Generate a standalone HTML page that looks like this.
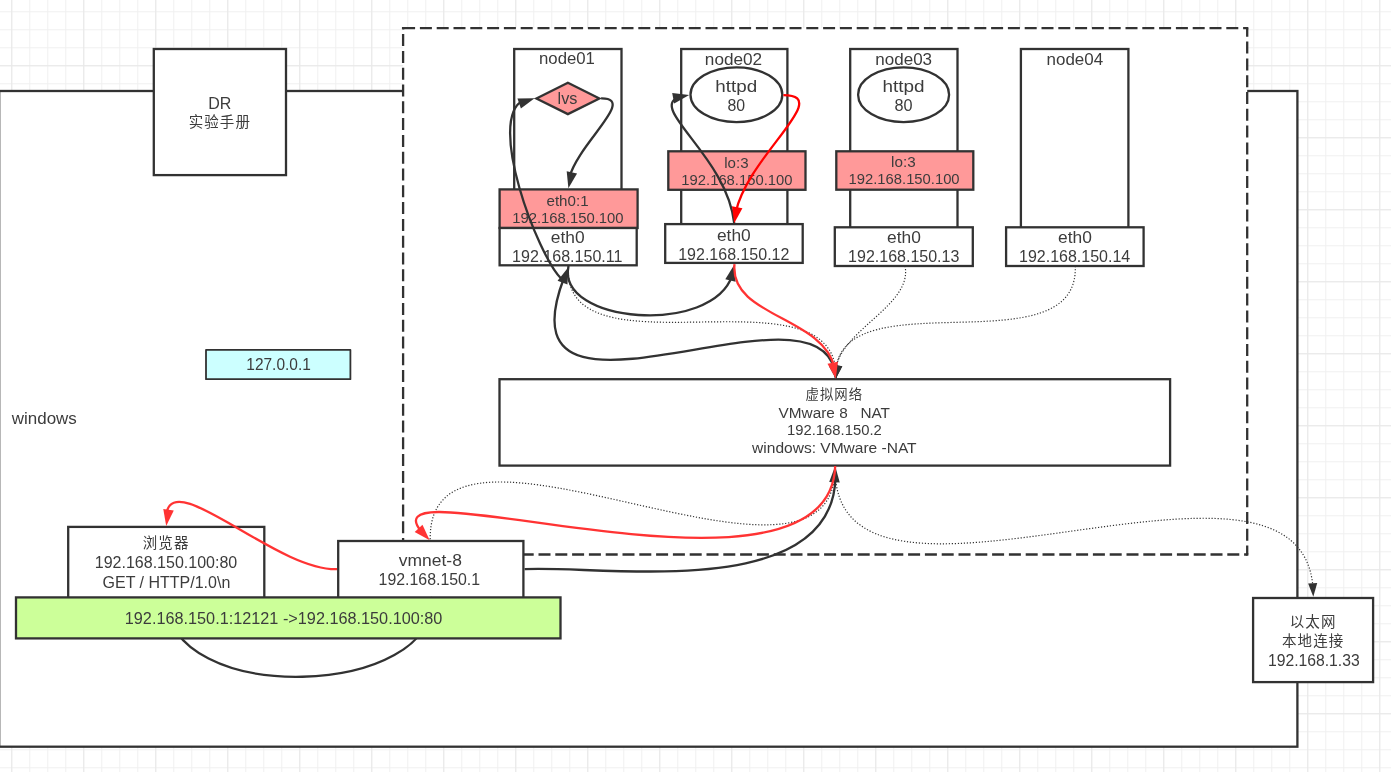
<!DOCTYPE html>
<html lang="zh-CN">
<head>
<meta charset="utf-8">
<title>DR 实验手册</title>
<style>
html,body{margin:0;padding:0;background:#fff;}
body{width:1391px;height:772px;overflow:hidden;position:relative;}
svg{position:absolute;left:0;top:0;display:block;will-change:transform;}
text{font-family:"Liberation Sans","Noto Sans CJK SC",sans-serif;font-size:16px;fill:#3c3c3c;text-anchor:middle;}
.s{fill:#fff;stroke:#323232;stroke-width:2.3;}
.pk{fill:#ff9999;stroke:#323232;stroke-width:2.3;}
.l{fill:none;stroke:#323232;stroke-width:2.3;}
.r{fill:none;stroke:#ff3333;stroke-width:2.3;}
.d{fill:none;stroke:#323232;stroke-width:1.2;stroke-dasharray:1.2 1.8;}
.da{fill:none;stroke:#323232;stroke-width:2.3;stroke-dasharray:12 4.8;}
</style>
</head>
<body>
<svg width="1391" height="772" viewBox="0 0 1391 772">
<defs>
<pattern id="g1" x="11.25" y="11.25" width="18" height="18" patternUnits="userSpaceOnUse">
<path d="M0.5 0V18M0 0.5H18" fill="none" stroke="#f0f0f0" stroke-width="1"/>
</pattern>
<pattern id="g4" x="11.25" y="-6.75" width="72" height="72" patternUnits="userSpaceOnUse">
<path d="M0.5 0V72M0 0.5H72" fill="none" stroke="#e8e8e8" stroke-width="1"/>
</pattern>
</defs>
<rect width="1391" height="772" fill="#fff"/>
<rect width="1391" height="772" fill="url(#g1)"/>
<rect width="1391" height="772" fill="url(#g4)"/>

<!-- windows host -->
<rect class="s" x="-0.8" y="91" width="1298.2" height="655.7"/>

<!-- DR box -->
<rect class="s" x="153.8" y="49" width="132.2" height="126.1"/>

<!-- dashed VM area -->
<rect x="403.1" y="28.2" width="844.1" height="526.3" fill="#fff"/>
<path class="da" d="M403.1 28.2H1247.2"/>
<path class="da" d="M1247.2 28.2V554.5" stroke-dashoffset="3.4"/>
<path class="da" d="M1247.2 554.5H403.1" stroke-dashoffset="8.9"/>
<path class="da" d="M403.1 554.5V28.2" stroke-dashoffset="12.4"/>
<path d="M401.95 27.05h2.3v2.3h-2.3zM1246.05 27.05h2.3v2.3h-2.3zM1246.05 553.35h2.3v2.3h-2.3z" fill="#323232"/>

<!-- node boxes -->
<rect class="s" x="514.2" y="49" width="107.3" height="190"/>
<rect class="s" x="681.2" y="49" width="106.2" height="190"/>
<rect class="s" x="850.2" y="49" width="107.3" height="190"/>
<rect class="s" x="1020.9" y="49" width="107.5" height="190"/>

<!-- lvs diamond -->
<polygon class="pk" points="536.4,98.45 567.9,82.75 599.4,98.45 567.9,114.15"/>

<!-- httpd ellipses -->
<ellipse class="s" cx="736.4" cy="94.7" rx="45.9" ry="27.4"/>
<ellipse class="s" cx="903.6" cy="94.7" rx="45.5" ry="27.4"/>

<!-- pink boxes -->
<rect class="pk" x="499.6" y="189.4" width="138" height="38.6"/>
<rect class="pk" x="668.3" y="151.3" width="137.2" height="38.5"/>
<rect class="pk" x="836.3" y="151.3" width="137" height="38.4"/>

<!-- eth0 boxes -->
<rect class="s" x="499.6" y="228" width="137.1" height="37.3"/>
<rect class="s" x="665.2" y="224.1" width="137.5" height="38.8"/>
<rect class="s" x="834.8" y="227.3" width="138" height="38.7"/>
<rect class="s" x="1006.1" y="227.3" width="137.5" height="38.7"/>

<!-- NAT box -->
<rect class="s" x="499.5" y="379.2" width="670.6" height="86.4"/>

<!-- 127.0.0.1 -->
<rect x="206" y="349.9" width="144.4" height="29.3" fill="#ccffff" stroke="#323232" stroke-width="1.8" stroke-linejoin="round"/>

<!-- browser / vmnet -->
<rect class="s" x="68.2" y="526.9" width="196.1" height="75"/>
<rect class="s" x="338.2" y="541" width="185.2" height="60"/>

<!-- ethernet -->
<rect class="s" x="1253.1" y="598" width="120" height="84.1"/>

<path class="l" d="M166.5 597C164.2 709.36 443.31 697.29 430.5 597"/>

<!-- green box -->
<rect x="16" y="597.4" width="544.5" height="41" fill="#ccff99" stroke="#323232" stroke-width="2.3"/>

<text x="219.81" y="108.8">DR</text>
<text x="219.85" y="126.8" style="font-size:14.51px;letter-spacing:1.09px">实验手册</text>
<text x="566.95" y="64" textLength="55.88" lengthAdjust="spacingAndGlyphs">node01</text>
<text x="733.49" y="65" textLength="57.31" lengthAdjust="spacingAndGlyphs">node02</text>
<text x="903.7" y="65" textLength="56.72" lengthAdjust="spacingAndGlyphs">node03</text>
<text x="1074.88" y="65" textLength="56.56" lengthAdjust="spacingAndGlyphs">node04</text>
<text x="567.47" y="104" textLength="19.86" lengthAdjust="spacingAndGlyphs">lvs</text>
<text x="736.2" y="92" textLength="41.83" lengthAdjust="spacingAndGlyphs">httpd</text>
<text x="736.28" y="111" textLength="17.63" lengthAdjust="spacingAndGlyphs">80</text>
<text x="903.55" y="92" textLength="42.04" lengthAdjust="spacingAndGlyphs">httpd</text>
<text x="903.53" y="111" textLength="18.06" lengthAdjust="spacingAndGlyphs">80</text>
<text x="567.54" y="206.4" style="font-size:14.4px" textLength="42.09" lengthAdjust="spacingAndGlyphs">eth0:1</text>
<text x="567.92" y="223.3" style="font-size:14.4px" textLength="111.47" lengthAdjust="spacingAndGlyphs">192.168.150.100</text>
<text x="736.43" y="167.8" style="font-size:14.4px" textLength="24.32" lengthAdjust="spacingAndGlyphs">lo:3</text>
<text x="736.92" y="185.3" style="font-size:14.4px" textLength="111.17" lengthAdjust="spacingAndGlyphs">192.168.150.100</text>
<text x="903.38" y="166.8" style="font-size:14.4px" textLength="24.53" lengthAdjust="spacingAndGlyphs">lo:3</text>
<text x="904.08" y="184.3" style="font-size:14.4px" textLength="111.06" lengthAdjust="spacingAndGlyphs">192.168.150.100</text>
<text x="567.77" y="242.7" textLength="33.83" lengthAdjust="spacingAndGlyphs">eth0</text>
<text x="567.28" y="262" textLength="110.36" lengthAdjust="spacingAndGlyphs">192.168.150.11</text>
<text x="733.83" y="241" textLength="33.83" lengthAdjust="spacingAndGlyphs">eth0</text>
<text x="733.81" y="260">192.168.150.12</text>
<text x="903.97" y="243" textLength="33.83" lengthAdjust="spacingAndGlyphs">eth0</text>
<text x="903.73" y="262">192.168.150.13</text>
<text x="1074.97" y="243" textLength="33.83" lengthAdjust="spacingAndGlyphs">eth0</text>
<text x="1074.61" y="262">192.168.150.14</text>
<text x="834.3" y="399" style="font-size:13.39px;letter-spacing:1.01px">虚拟网络</text>
<text x="834.32" y="418" style="font-size:14.7px" textLength="111.4" lengthAdjust="spacingAndGlyphs" xml:space="preserve">VMware 8   NAT</text>
<text x="834.42" y="435" style="font-size:14.7px" textLength="94.75" lengthAdjust="spacingAndGlyphs">192.168.150.2</text>
<text x="834.36" y="453" style="font-size:14.7px" textLength="164.51" lengthAdjust="spacingAndGlyphs">windows: VMware -NAT</text>
<text x="278.57" y="370" textLength="64.46" lengthAdjust="spacingAndGlyphs">127.0.0.1</text>
<text x="44.3" y="424" textLength="64.99" lengthAdjust="spacingAndGlyphs">windows</text>
<text x="166.15" y="547.6" style="font-size:14.51px;letter-spacing:1.09px">浏览器</text>
<text x="166" y="568">192.168.150.100:80</text>
<text x="166.41" y="588">GET / HTTP/1.0\n</text>
<text x="430.33" y="566" textLength="63.03" lengthAdjust="spacingAndGlyphs">vmnet-8</text>
<text x="429.36" y="585" textLength="101.51" lengthAdjust="spacingAndGlyphs">192.168.150.1</text>
<text x="283.59" y="624" textLength="317.57" lengthAdjust="spacingAndGlyphs">192.168.150.1:12121 -&gt;192.168.150.100:80</text>
<text x="1313.15" y="626.5" style="font-size:14.51px;letter-spacing:1.09px">以太网</text>
<text x="1313.15" y="645.5" style="font-size:14.51px;letter-spacing:1.09px">本地连接</text>
<text x="1313.82" y="666" textLength="91.79" lengthAdjust="spacingAndGlyphs">192.168.1.33</text>

<path class="d" d="M568.5 266C560.85 379.15 825.69 268.04 835.6 369.35"/>
<polygon fill="#323232" points="835.8,378.8 828.97,366.3 837.94,364.71"/>
<path class="d" d="M905 266C912.97 305.08 840.99 329.63 835.76 369.35"/>
<polygon fill="#323232" points="835.8,378.8 833.32,364.77 842.32,366.13"/>
<path class="d" d="M1075.3 266C1079.05 368.92 845.48 278.54 836 369.35"/>
<polygon fill="#323232" points="835.8,378.8 833.32,364.77 842.32,366.13"/>
<path class="d" d="M835.2 466C837.64 632.84 426.85 374.45 430.2 540.2"/>
<path class="d" d="M835.2 466C829.54 660.04 1298.77 407.05 1312.97 587.26"/>
<polygon fill="#323232" points="1313.3,596.7 1308.14,583.42 1317.23,583.01"/>
<path class="l" d="M561.5 279C537.63 255.51 485.76 118.81 523.37 100.33"/>
<polygon fill="#323232" points="534.6,98.3 520.91,108.62 517.46,98.6"/>
<path class="l" d="M601.1 98.45C637 97.87 578.91 142.68 569.5 176.94"/>
<polygon fill="#323232" points="568.4,188.3 566.69,171.25 577.05,173.5"/>
<path class="l" d="M568.5 266C556.39 323.65 712.26 335.93 732.34 275.22"/>
<polygon fill="#323232" points="734.4,264.6 735.6,281.7 725.31,279.13"/>
<path class="l" d="M835.8 378.4C830.16 262.81 494.5 461.1 563.92 277.98"/>
<polygon fill="#323232" points="568.2,267.4 567.49,284.53 557.55,280.83"/>
<path class="l" d="M734.2 223.2C727.07 157.17 649.35 109.38 678.04 97.49"/>
<polygon fill="#323232" points="689.2,95.1 674.2,103.39 672.19,92.98"/>
<path class="l" d="M524.6 569.2C601.82 564.86 832.31 603.58 835.51 477.41"/>
<polygon fill="#323232" points="835.2,466 839.76,482.52 829.17,482.04"/>
<path class="r" style="stroke:#ff0000" d="M783.4 95.1C833.78 95.16 749.02 154.39 735.82 211.91"/>
<polygon fill="#ff0000" points="734.2,223.2 731.99,206.2 742.41,208.15"/>
<path class="r" d="M734.5 264.2C729.6 316.73 822.43 316.3 834.51 367.46"/>
<polygon fill="#ff3333" points="835.8,378.8 827.49,363.81 837.89,361.79"/>
<path class="r" d="M835.2 466C830.25 626.16 358.57 457.66 421.71 532.06"/>
<polygon fill="#ff3333" points="429.7,540.2 414.71,531.89 422.46,524.66"/>
<path class="r" d="M337 569.2C275.98 570.77 172.81 466.45 166.22 514.49"/>
<polygon fill="#ff3333" points="166.2,525.9 163.28,509.01 173.77,510.52"/>
</svg>
</body>
</html>
